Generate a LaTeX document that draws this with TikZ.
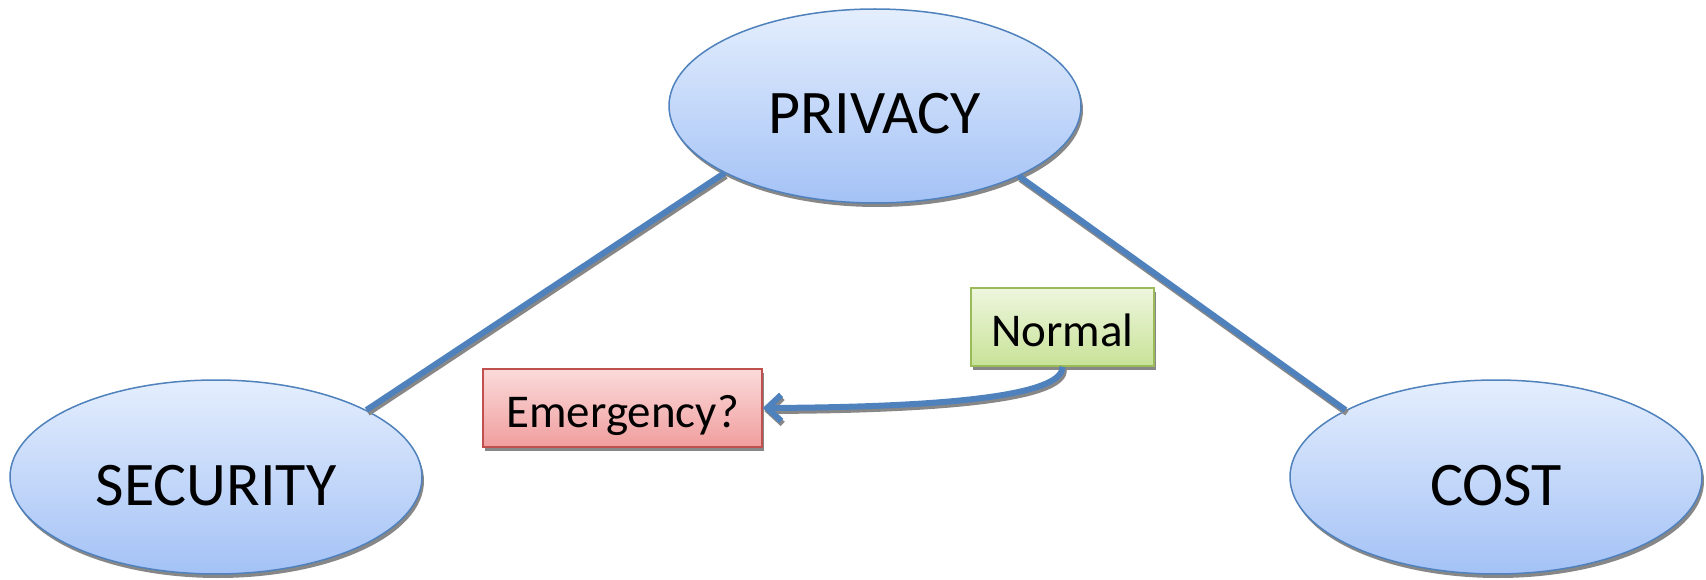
\documentclass[tikz,border=0pt]{standalone}
\usepackage{fontspec}
\setmainfont{Carlito}
\usetikzlibrary{shapes.geometric, shadows, arrows.meta}

\definecolor{ovalTop}{RGB}{228,238,253}
\definecolor{ovalBot}{RGB}{164,194,246}
\definecolor{edgeBlue}{RGB}{79,129,189}
\definecolor{linkBlue}{RGB}{79,129,189}
\definecolor{shadowGray}{RGB}{135,135,135}
\definecolor{greenTop}{RGB}{238,246,222}
\definecolor{greenBot}{RGB}{200,226,152}
\definecolor{greenEdge}{RGB}{155,187,89}
\definecolor{redTop}{RGB}{251,218,218}
\definecolor{redBot}{RGB}{240,158,158}
\definecolor{redEdge}{RGB}{192,80,77}

\begin{document}
\begin{tikzpicture}[x=1pt, y=-1pt,
  oval/.style={ellipse, draw=edgeBlue, line width=1.5pt,
    top color=ovalTop, bottom color=ovalBot,
    minimum width=412pt, minimum height=194pt, inner sep=0pt,
    font=\fontsize{62}{70}\selectfont, text height=56pt, text depth=0pt,
    drop shadow={shadow xshift=2pt, shadow yshift=-4pt, fill=shadowGray, opacity=1}},
  tag/.style={rectangle, line width=1.5pt, minimum height=78pt, inner sep=0pt,
    font=\fontsize{47}{56}\selectfont, text height=38pt, text depth=0pt,
    drop shadow={shadow xshift=2pt, shadow yshift=-4pt, fill=shadowGray, opacity=1}},
  greentag/.style={tag, draw=greenEdge, top color=greenTop, bottom color=greenBot},
  redtag/.style={tag, draw=redEdge, top color=redTop, bottom color=redBot},
  link/.style={draw=linkBlue, line width=6pt},
  linkshadow/.style={draw=shadowGray, line width=6pt,
    transform canvas={xshift=1.5pt, yshift=-3pt}},
  barb/.style={-{Straight Barb[length=14pt, width=26pt]}}
]
\useasboundingbox (0,0) rectangle (1706,580);

% the three ovals
\node[oval] (P) at (875,106) {PRIVACY};
\node[oval] (S) at (216,477) {SECURITY};
\node[oval] (C) at (1496,477) {COST};

% the two tags
\node[greentag, minimum width=183pt] (N) at (1062.5,327) {Normal};
\node[redtag, minimum width=279pt] (E) at (622.5,408) {Emergency?};

% links between the ovals
\draw[linkshadow] (P.204) -- (S.24);
\draw[link] (P.204) -- (S.24);
\draw[linkshadow] (P.334) -- (C.156);
\draw[link] (P.334) -- (C.156);

% curved arrow from Normal to Emergency?
\draw[linkshadow, barb] (N.south) .. controls (1063,392) and (975,407) .. (E.east);
\draw[link, barb] (N.south) .. controls (1063,392) and (975,407) .. (E.east);
\end{tikzpicture}
\end{document}
